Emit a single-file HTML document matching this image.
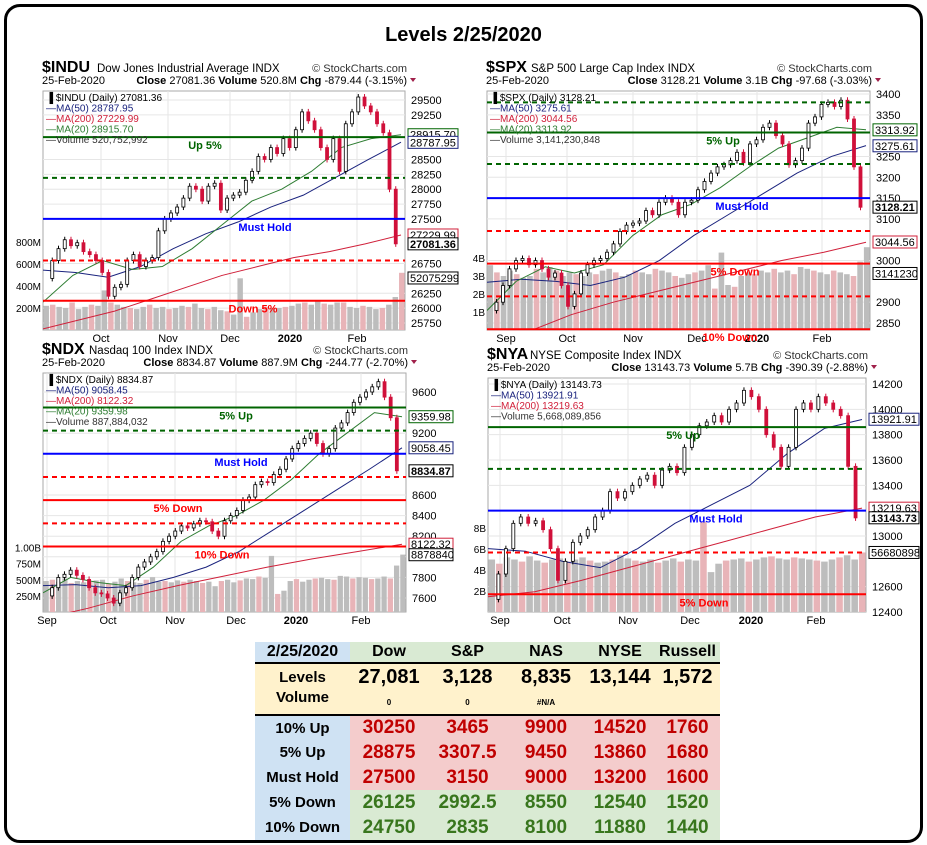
<!DOCTYPE html>
<html><head><meta charset="utf-8">
<style>
body{margin:0;background:#fff;font-family:"Liberation Sans",sans-serif;}
#frame{position:absolute;left:4px;top:4px;width:913px;height:833px;border:3px solid #000;border-radius:16px;}
#title{position:absolute;left:0;width:927px;top:24px;text-align:center;font-weight:bold;font-size:20px;}
svg text{font-family:"Liberation Sans",sans-serif;}
table{position:absolute;left:255px;top:642px;border-collapse:collapse;font-weight:bold;table-layout:fixed;width:465px;}
td{padding:0;text-align:center;white-space:nowrap;overflow:hidden;}
</style></head><body>
<div id="frame"></div>
<div id="title">Levels 2/25/2020</div>
<svg id="charts" width="927" height="640" style="position:absolute;left:0;top:0"></svg>

<table>
<colgroup><col style="width:95px"><col style="width:78px"><col style="width:79px"><col style="width:78px"><col style="width:70px"><col style="width:65px"></colgroup>
<tr style="height:21px;font-size:16px;border-bottom:2px solid #000">
<td style="background:#cfe2f3">2/25/2020</td>
<td style="background:#d9ead3">Dow</td><td style="background:#d9ead3">S&amp;P</td><td style="background:#d9ead3">NAS</td><td style="background:#d9ead3">NYSE</td><td style="background:#d9ead3">Russell</td></tr>
<tr style="height:45px;background:#fff2cc;border-bottom:2px solid #000;vertical-align:top">
<td style="font-size:15px;line-height:20px;padding-top:4px">Levels<br>Volume</td>
<td style="font-size:20px;line-height:22px;padding-top:2px">27,081<br><span style="font-size:8px">0</span></td>
<td style="font-size:20px;line-height:22px;padding-top:2px">3,128<br><span style="font-size:8px">0</span></td>
<td style="font-size:20px;line-height:22px;padding-top:2px">8,835<br><span style="font-size:8px">#N/A</span></td>
<td style="font-size:20px;line-height:22px;padding-top:2px">13,144</td>
<td style="font-size:20px;line-height:22px;padding-top:2px">1,572</td></tr>
<tr style="height:25px;color:#c00000;font-size:19px"><td style="background:#cfe2f3;color:#000;font-size:15px">10% Up</td><td style="background:#f4cccc">30250</td><td style="background:#f4cccc">3465</td><td style="background:#f4cccc">9900</td><td style="background:#f4cccc">14520</td><td style="background:#f4cccc">1760</td></tr>
<tr style="height:25px;color:#c00000;font-size:19px"><td style="background:#cfe2f3;color:#000;font-size:15px">5% Up</td><td style="background:#f4cccc">28875</td><td style="background:#f4cccc">3307.5</td><td style="background:#f4cccc">9450</td><td style="background:#f4cccc">13860</td><td style="background:#f4cccc">1680</td></tr>
<tr style="height:25px;color:#c00000;font-size:19px"><td style="background:#cfe2f3;color:#000;font-size:15px">Must Hold</td><td style="background:#f4cccc">27500</td><td style="background:#f4cccc">3150</td><td style="background:#f4cccc">9000</td><td style="background:#f4cccc">13200</td><td style="background:#f4cccc">1600</td></tr>
<tr style="height:25px;color:#38761d;font-size:19px"><td style="background:#cfe2f3;color:#000;font-size:15px">5% Down</td><td style="background:#d9ead3">26125</td><td style="background:#d9ead3">2992.5</td><td style="background:#d9ead3">8550</td><td style="background:#d9ead3">12540</td><td style="background:#d9ead3">1520</td></tr>
<tr style="height:25px;color:#38761d;font-size:19px"><td style="background:#cfe2f3;color:#000;font-size:15px">10% Down</td><td style="background:#d9ead3">24750</td><td style="background:#d9ead3">2835</td><td style="background:#d9ead3">8100</td><td style="background:#d9ead3">11880</td><td style="background:#d9ead3">1440</td></tr>
</table>

<script>
// ---- INDU data ----
const induCloses=[26500,26800,27000,27150,27050,27100,26950,26900,26800,26600,26200,26350,26400,26800,26900,26700,26800,26850,27300,27500,27600,27700,27850,28050,28000,27800,28050,28100,27650,27850,27900,27950,28150,28300,28550,28500,28700,28600,28850,28700,29000,29300,29150,29000,28700,28500,28850,28300,29100,29300,29550,29400,29300,29100,28950,28000,27081];
const induMA50=[26640,26600,26520,26700,27000,27250,27450,27700,27900,28200,28500,28790];
const induMA200=[25650,25800,25950,26150,26350,26550,26700,26850,26950,27080,27230];
const induMA20=[26100,26550,26800,26650,26700,27000,27400,27800,28000,28300,28700,28850,28915];
const induVol=[220,230,210,200,250,190,210,230,220,360,250,230,210,200,190,210,230,200,210,190,200,220,210,240,200,190,210,180,170,140,470,120,160,190,210,200,200,210,220,240,250,230,260,240,230,250,250,210,200,220,210,190,200,230,300,520];
const induTicks=[29500,29250,28500,28250,28000,27750,27500,26750,26250,26000,25750];
const induVolTicks=["800M","600M","400M","200M"];
const induVolTickVals=[800,600,400,200];
const induMonths=["Oct","Nov","Dec","2020","Feb"];
const induLevels=[28875,28190,27500,26800,26125];
const induLevelNames=["Up 5%","","Must Hold","","Down 5%"];
// ---- SPX data ----
const spxCloses=[2880,2900,2940,2980,3000,3005,2990,3000,2980,2960,2970,2940,2890,2920,2970,2990,3000,3005,3020,3040,3070,3085,3090,3095,3120,3110,3140,3150,3140,3110,3140,3145,3170,3190,3210,3225,3230,3240,3260,3235,3280,3290,3320,3330,3300,3280,3230,3240,3270,3330,3345,3375,3380,3370,3385,3340,3225,3128];
const spxMA50=[2948,2955,2950,2940,2960,3000,3060,3110,3160,3210,3250,3276];
const spxMA200=[2780,2830,2870,2900,2925,2950,2975,3000,3020,3044];
const spxMA20=[2880,2950,2985,2970,2990,3060,3110,3135,3175,3225,3270,3295,3320,3314];
const spxVol=[3.6,3.2,3.0,3.3,3.1,2.9,3.0,3.4,3.2,3.5,3.3,3.0,3.2,3.1,3.0,3.2,3.1,3.3,3.4,3.2,3.0,3.1,3.3,3.2,3.1,3.4,3.3,3.2,3.0,2.9,3.1,3.2,3.3,3.6,2.3,4.3,2.5,2.4,3.0,3.2,3.1,3.3,3.2,3.4,3.2,3.3,3.1,3.5,3.4,3.3,3.2,3.1,3.3,3.2,3.1,3.0,3.8,4.6];
const spxTicks=[3400,3350,3250,3200,3150,3100,3000,2900,2850];
const spxVolTicks=["4B","3B","2B","1B"];
const spxVolTickVals=[4,3,2,1];
const spxMonths=["Sep","Oct","Nov","Dec","2020","Feb"];
const spxLevels=[3380,3307.5,3232,3150,3071,2992.5,2914,2835];
const spxLevelNames=["","5% Up","","Must Hold","","5% Down","","10% Down"];
// ---- NDX data ----
const ndxCloses=[7620,7700,7800,7830,7870,7820,7780,7700,7650,7640,7600,7550,7650,7700,7800,7900,7950,8000,8050,8150,8200,8250,8300,8280,8320,8350,8340,8250,8200,8350,8400,8450,8550,8580,8700,8730,8720,8800,8850,8950,9050,9100,9150,9200,9100,9000,9050,9250,9300,9400,9500,9550,9600,9650,9700,9550,9350,8835];
const ndxMA50=[7720,7730,7700,7720,7800,7900,8050,8250,8450,8650,8850,9058];
const ndxMA200=[7400,7500,7620,7720,7810,7900,7980,8050,8122];
const ndxMA20=[7650,7800,7750,7720,7900,8150,8300,8400,8550,8750,9000,9200,9400,9360];
const ndxVol=[480,500,470,520,450,480,460,470,490,500,440,470,520,480,460,450,500,540,470,480,460,490,470,500,480,450,470,400,480,500,460,490,520,510,550,530,870,280,330,480,510,470,500,520,530,510,500,560,550,520,540,530,510,520,550,520,720,890];
const ndxTicks=[9600,9200,8600,8400,8200,8000,7800,7600];
const ndxVolTicks=["1.00B","750M","500M","250M"];
const ndxVolTickVals=[1000,750,500,250];
const ndxMonths=["Sep","Oct","Nov","Dec","2020","Feb"];
const ndxLevels=[9450,9225,9000,8775,8550,8325,8100];
const ndxLevelNames=["5% Up","","Must Hold","","5% Down","","10% Down"];
// ---- NYA data ----
const nyaCloses=[12500,12700,12900,13100,13150,13100,13120,13050,12900,12650,12800,12950,13000,13050,13150,13200,13350,13300,13350,13400,13450,13480,13400,13520,13550,13500,13700,13800,13870,13900,13950,13900,14000,14050,14150,14100,14000,13800,13700,13550,13700,14000,14050,14000,14100,14050,14000,13950,13550,13143];
const nyaMA50=[12900,12880,12800,12750,12900,13100,13250,13400,13650,13850,13920];
const nyaMA200=[12520,12560,12650,12750,12850,12950,13050,13150,13220];
const nyaVol=[5.0,4.6,5.2,5.0,4.8,5.3,4.9,4.7,5.0,5.1,4.8,5.0,5.2,4.9,4.7,4.8,5.0,5.4,5.1,4.9,4.8,5.0,4.7,4.9,5.1,4.8,5.0,4.9,8.6,3.8,4.6,4.9,5.0,5.1,4.8,5.0,5.2,5.3,5.1,5.0,5.2,5.1,5.0,4.9,4.8,5.0,5.2,5.4,5.0,5.67];
const nyaTicks=[14200,14000,13800,13600,13400,13000,12600,12400];
const nyaVolTicks=["8B","6B","4B","2B"];
const nyaVolTickVals=[8,6,4,2];
const nyaMonths=["Sep","Oct","Nov","Dec","2020","Feb"];
const nyaLevels=[13860,13530,13200,12870,12540];
const nyaLevelNames=["5% Up","","Must Hold","","5% Down"];

const NS="http://www.w3.org/2000/svg";
const svg=document.getElementById('charts');
function mk(tag,attrs,parent,txt){const e=document.createElementNS(NS,tag);for(const k in attrs)e.setAttribute(k,attrs[k]);if(txt!==undefined)e.textContent=txt;(parent||svg).appendChild(e);return e;}

function drawChart(c){
  const g=mk('g',{});
  
  
  const L=c.x0,R=c.x1,T=c.y0,B=c.y1;
  const y=v=>c.yA+(c.vA-v)*(c.yB-c.yA)/(c.vA-c.vB);
  const vy=v=>B-v*c.volK;
  // header
  const h1=mk('text',{x:L-1,y:T-19,'font-size':16,'font-weight':'bold'},g,c.sym);
  
  mk('text',{x:L+c.nameOff,y:T-19,'font-size':11.5},g,c.name);
  mk('text',{x:R+2,y:T-19,'font-size':11,'text-anchor':'end',fill:'#333'},g,'© StockCharts.com');
  mk('text',{x:L-1,y:T-7,'font-size':11},g,'25-Feb-2020');
  const inf=mk('text',{x:R+2,y:T-7,'font-size':11,'text-anchor':'end'},g);
  c.info.forEach((p,i)=>{mk('tspan',{'font-weight':i%2===0?'bold':'normal'},inf,p);});
  mk('polygon',{points:`${R+5},${T-13} ${R+11},${T-13} ${R+8},${T-9}`,fill:'#a0204a'},g);
  // plot frame + grid
  mk('rect',{x:L,y:T,width:R-L,height:B-T,fill:'#fff',stroke:'#aaa','stroke-width':1},g);
  const clipId='clip'+c.id;
  const cp=mk('clipPath',{id:clipId},g);mk('rect',{x:L,y:T,width:R-L,height:B-T},cp);
  const pg=mk('g',{'clip-path':`url(#${clipId})`},g);
  c.ticks.forEach(t=>{mk('line',{x1:L,x2:R,y1:y(t),y2:y(t),stroke:'#e6e6e6'},pg);
    mk('text',{x:R+6,y:y(t)+4,'font-size':11},g,t);});
  c.months.forEach((m,i)=>{const mx=c.monthX[i];mk('line',{x1:mx,x2:mx,y1:T,y2:B,stroke:'#e6e6e6'},pg);
    mk('text',{x:mx,y:B+12,'font-size':11,'text-anchor':'middle','font-weight':m==='2020'?'bold':'normal'},g,m);});
  c.volTicks.forEach((t,i)=>mk('text',{x:L-2,y:vy(c.volTickVals[i])+4,'font-size':10,'text-anchor':'end'},g,t));
  // volume
  const nv=c.vol.length,vw=(R-L)/nv;
  c.vol.forEach((v,i)=>{const r=mk('rect',{x:L+i*vw+0.5,y:vy(v),width:vw-1,height:B-vy(v),fill:(i%3===1)?'#e8b4b8':'#bdbdbd'},pg);
    });
  // MAs
  const ma=(arr,col)=>{const n=arr.length;const pts=arr.map((v,i)=>`${L+i*(R-L-4)/(n-1)},${y(v)}`).join(' ');
    const p=mk('polyline',{points:pts,fill:'none',stroke:col,'stroke-width':1},pg);
    };
  if(c.ma200)ma(c.ma200,'#d0203a');
  if(c.ma50)ma(c.ma50,'#1a237e');
  if(c.ma20)ma(c.ma20,'#2e7d32');
  // levels
  c.levels.forEach((lv,i)=>{const col=i<c.mustIdx?'#006400':(i===c.mustIdx?'#0000ff':'#ff0000');
    const dashed=c.levelNames[i]==='';
    const ln=mk('line',{x1:L,x2:R,y1:y(lv),y2:y(lv),stroke:col,'stroke-width':2,'stroke-dasharray':dashed?'5,4':'none'},g);
    
    if(!dashed){const lt=mk('text',{x:c.labelX[i],y:y(lv)+12,'font-size':11,'font-weight':'bold',fill:col,'text-anchor':'middle'},g,c.levelNames[i]);
      }
  });
  // candles
  const n=c.closes.length,cw=(R-L-6)/n;
  c.closes.forEach((v,i)=>{if(i===0)return;const o=c.closes[i-1];const cx=L+3+i*cw;
    const up=v>=o;const top=y(Math.max(o,v)),bot=y(Math.min(o,v));
    mk('line',{x1:cx,x2:cx,y1:top-3,y2:bot+3,stroke:up?'#000':'#d0103a'},pg);
    const r=mk('rect',{x:cx-1.5,y:top,width:3,height:Math.max(1,bot-top),fill:up?'#fff':'#d0103a',stroke:up?'#000':'#d0103a','stroke-width':0.8},pg);
    });
  // legend
  const lg=[[`${c.sym} (Daily) ${c.close}`,'#000'],[`MA(50) ${c.l50}`,'#1a237e'],[`MA(200) ${c.l200}`,'#d0203a']];
  if(c.l20)lg.push([`MA(20) ${c.l20}`,'#2e7d32']);
  lg.push([`Volume ${c.volTxt}`,'#333']);
  lg.forEach((e,i)=>mk('text',{x:L+3,y:T+10+i*10.5,'font-size':10,fill:e[1]},g,(i===0?'\u2590 ':'—')+e[0]));
  // right tags
  c.tags.forEach(t=>{const ty=t[2]==='vol'?vy(t[0]):y(t[0]);
    mk('rect',{x:R+3,y:ty-6,width:c.tagW,height:12,fill:'#fff',stroke:t[1],'stroke-width':1},g);
    const tt=mk('text',{x:R+5,y:ty+4,'font-size':11,fill:'#000','font-weight':t[3]?'bold':'normal'},g,t[4]);
    });
}

drawChart({id:'indu',sym:'$INDU',name:'Dow Jones Industrial Average  INDX',nameOff:54,info:['Close ','27081.36  ','Volume ','520.8M  ','Chg ','-879.44 (-3.15%)'],
 x0:43,x1:405,y0:91,y1:330,vA:29500,yA:100,vB:25750,yB:323,volK:0.11,
 closes:induCloses,ma50:induMA50,ma200:induMA200,ma20:induMA20,vol:induVol,ticks:induTicks,
 volTicks:induVolTicks,volTickVals:induVolTickVals,months:induMonths,monthX:[101,168,230,290,357],
 levels:induLevels,levelNames:induLevelNames,mustIdx:2,labelX:[205,265,265,265,253],
 close:'27081.36',l50:'28787.95',l200:'27229.99',l20:'28915.70',volTxt:'520,752,992',tagW:50,
 tags:[[28915.7,'#006400',0,0,'28915.70'],[28787.95,'#1a237e',0,0,'28787.95'],[27229.99,'#d0203a',0,0,'27229.99'],[27081.36,'#000',0,1,'27081.36'],[473,'#000','vol',0,'52075299']]});
drawChart({id:'spx',sym:'$SPX',name:'S&P 500 Large Cap Index  INDX',nameOff:44,info:['Close ','3128.21  ','Volume ','3.1B  ','Chg ','-97.68 (-3.03%)'],
 x0:487,x1:870,y0:91,y1:330,vA:3400,yA:94,vB:2850,yB:323,volK:18,
 closes:spxCloses,ma50:spxMA50,ma200:spxMA200,ma20:spxMA20,vol:spxVol,ticks:spxTicks,
 volTicks:spxVolTicks,volTickVals:spxVolTickVals,months:spxMonths,monthX:[506,567,633,697,757,822],
 levels:spxLevels,levelNames:spxLevelNames,mustIdx:3,labelX:[0,723,0,742,0,735,0,730],
 close:'3128.21',l50:'3275.61',l200:'3044.56',l20:'3313.92',volTxt:'3,141,230,848',tagW:44,
 tags:[[3313.92,'#006400',0,0,'3313.92'],[3275.61,'#1a237e',0,0,'3275.61'],[3044.56,'#d0203a',0,0,'3044.56'],[3128.21,'#000',0,1,'3128.21'],[3.14,'#000','vol',0,'3141230']]});
drawChart({id:'ndx',sym:'$NDX',name:'Nasdaq 100 Index  INDX',nameOff:46,info:['Close ','8834.87  ','Volume ','887.9M  ','Chg ','-244.77 (-2.70%)'],
 x0:43,x1:406,y0:373,y1:612,vA:9600,yA:392,vB:7600,yB:598,volK:0.0645,
 closes:ndxCloses,ma50:ndxMA50,ma200:ndxMA200,ma20:ndxMA20,vol:ndxVol,ticks:ndxTicks,
 volTicks:ndxVolTicks,volTickVals:ndxVolTickVals,months:ndxMonths,monthX:[47,108,175,236,296,361],
 levels:ndxLevels,levelNames:ndxLevelNames,mustIdx:2,labelX:[236,241,241,241,178,0,222],
 close:'8834.87',l50:'9058.45',l200:'8122.32',l20:'9359.98',volTxt:'887,884,032',tagW:44,
 tags:[[9359.98,'#006400',0,0,'9359.98'],[9058.45,'#1a237e',0,0,'9058.45'],[8122.32,'#d0203a',0,0,'8122.32'],[8834.87,'#000',0,1,'8834.87'],[888,'#000','vol',0,'8878840']]});
drawChart({id:'nya',sym:'$NYA',name:'NYSE Composite Index  INDX',nameOff:42,info:['Close ','13143.73  ','Volume ','5.7B  ','Chg ','-390.39 (-2.88%)'],
 x0:488,x1:866,y0:378,y1:612,vA:14200,yA:384,vB:12400,yB:612,volK:10.5,
 closes:nyaCloses,ma50:nyaMA50,ma200:nyaMA200,ma20:null,vol:nyaVol,ticks:nyaTicks,
 volTicks:nyaVolTicks,volTickVals:nyaVolTickVals,months:nyaMonths,monthX:[500,562,628,690,751,816],
 levels:nyaLevels,levelNames:nyaLevelNames,mustIdx:2,labelX:[683,0,716,0,704],
 close:'13143.73',l50:'13921.91',l200:'13219.63',l20:null,volTxt:'5,668,089,856',tagW:50,
 tags:[[13921.91,'#1a237e',0,0,'13921.91'],[13219.63,'#d0203a',0,0,'13219.63'],[13143.73,'#000',0,1,'13143.73'],[5.67,'#000','vol',0,'56680898']]});
</script>
</body></html>
